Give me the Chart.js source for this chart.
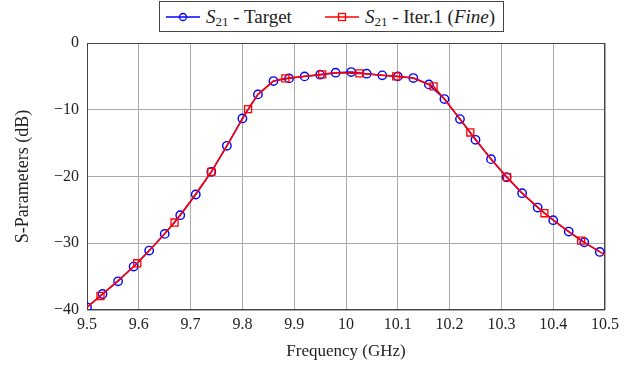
<!DOCTYPE html>
<html>
<head>
<meta charset="utf-8">
<script src="https://cdn.jsdelivr.net/npm/chart.js@4.4.0/dist/chart.umd.min.js"></script>
<style>
  body { margin: 0; background: #fff; }
  #wrap { position: relative; width: 642px; height: 365px; }
  #legend {
    position: absolute; left: 159px; top: 1px; width: 345px; height: 31px;
    border: 1px solid #444; background: #fff; box-sizing: border-box;
    font-family: "Liberation Serif", serif; font-size: 19px; color: #222;
    display: flex; align-items: center; padding-left: 6px; white-space: nowrap;
  }
  #legend .item { display: flex; align-items: center; margin-right: 33px; }
  #legend svg { margin-right: 6px; }
  #legend sub { font-size: 13px; vertical-align: -3px; line-height: 0; }
</style>
</head>
<body>
<div id="wrap">
  <canvas id="sparamChart" width="642" height="365"></canvas>
  <div id="legend">
    <span class="item">
      <svg width="34" height="12"><line x1="0" y1="6" x2="34" y2="6" stroke="#0000ff" stroke-width="1.5"/><circle cx="17" cy="6" r="3.5" fill="none" stroke="#0000ff" stroke-width="1.3"/></svg>
      <span><i>S</i><sub>21</sub> - Target</span>
    </span>
    <span class="item">
      <svg width="34" height="12"><line x1="0" y1="6" x2="34" y2="6" stroke="#ff0000" stroke-width="1.5"/><rect x="13.5" y="2.5" width="7" height="7" fill="none" stroke="#ff0000" stroke-width="1.3"/></svg>
      <span><i>S</i><sub>21</sub> - Iter.1 (<i>Fine</i>)</span>
    </span>
  </div>
</div>
<script>
// target response, sampled every 0.03 GHz
var targetFreq = [9.50, 9.53, 9.56, 9.59, 9.62, 9.65, 9.68, 9.71, 9.74, 9.77, 9.80, 9.83,
    9.86, 9.89, 9.92, 9.95, 9.98, 10.01, 10.04, 10.07, 10.10, 10.13, 10.16, 10.19,
    10.22, 10.25, 10.28, 10.31, 10.34, 10.37, 10.40, 10.43, 10.46, 10.49];
var targetDb = [-39.6, -37.6, -35.7, -33.5, -31.1, -28.6, -25.8, -22.7, -19.3, -15.4, -11.3, -7.7,
    -5.7, -5.3, -5.0, -4.75, -4.45, -4.35, -4.6, -4.85, -5.0, -5.25, -6.2, -8.4,
    -11.4, -14.5, -17.4, -20.1, -22.5, -24.65, -26.55, -28.25, -29.85, -31.3];

// fine-model iteration 1
var fineFreq = [9.50, 9.526, 9.56, 9.597, 9.63, 9.669, 9.70, 9.740, 9.77, 9.811, 9.83, 9.86,
    9.883, 9.92, 9.954, 9.98, 10.026, 10.06, 10.097, 10.13, 10.169, 10.19, 10.22, 10.240,
    10.28, 10.311, 10.34, 10.383, 10.42, 10.454, 10.50];
var fineDb = [-39.6, -37.9, -35.6, -33.0, -30.3, -26.9, -23.7, -19.3, -15.4, -9.9, -7.7, -5.7,
    -5.3, -5.0, -4.7, -4.45, -4.55, -4.75, -5.0, -5.25, -6.5, -8.4, -11.4, -13.4,
    -17.4, -20.1, -22.5, -25.5, -27.7, -29.6, -31.75];
// points of the fine curve that carry a marker
var fineMarkFreq = [9.526, 9.597, 9.669, 9.740, 9.811, 9.883, 9.954, 10.026, 10.097,
    10.169, 10.240, 10.311, 10.383, 10.454];

var xTicks = [9.5, 9.6, 9.7, 9.8, 9.9, 10, 10.1, 10.2, 10.3, 10.4, 10.5];
var yTicks = [0, -10, -20, -30, -40];

function toPoints(xs, ys) {
    return xs.map(function (x, i) { return { x: x, y: ys[i] }; });
}

var serif = "'Liberation Serif', 'DejaVu Serif', serif";

// plot frame around the chart area
var framePlugin = {
    id: 'frame',
    beforeDatasetsDraw: function (chart) {
        var a = chart.chartArea, ctx = chart.ctx;
        ctx.save();
        ctx.strokeStyle = '#444';
        ctx.lineWidth = 1;
        ctx.strokeRect(a.left + 0.5, a.top + 0.5, a.right - a.left - 1, a.bottom - a.top - 1);
        ctx.restore();
    }
};

var ctxChart = document.getElementById('sparamChart').getContext('2d');
var sparamChart = new Chart(ctxChart, {
    type: 'line',
    data: {
        datasets: [{
            label: 'S21 - Iter.1 (Fine)',
            data: toPoints(fineFreq, fineDb),
            borderColor: '#ff0000',
            borderWidth: 1.6,
            pointStyle: 'rect',
            pointRadius: function (c) {
                return fineMarkFreq.indexOf(c.raw.x) >= 0 ? 5 : 0;
            },
            pointBorderWidth: 1.3,
            pointBorderColor: '#ff0000',
            pointBackgroundColor: 'rgba(0,0,0,0)',
            fill: false,
            tension: 0
        }, {
            label: 'S21 - Target',
            data: toPoints(targetFreq, targetDb),
            borderColor: '#0000ff',
            borderWidth: 1.4,
            pointStyle: 'circle',
            pointRadius: 4.2,
            pointBorderWidth: 1.4,
            pointBorderColor: '#0000ff',
            pointBackgroundColor: 'rgba(0,0,0,0)',
            fill: false,
            tension: 0
        }]
    },
    options: {
        responsive: false,
        animation: false,
        layout: { padding: { top: 43, right: 37, left: 0, bottom: 0 } },
        plugins: {
            legend: { display: false },
            tooltip: { enabled: false }
        },
        scales: {
            x: {
                type: 'linear',
                min: 9.5,
                max: 10.5,
                afterFit: function (scale) { scale.height = 55; },
                afterBuildTicks: function (scale) {
                    scale.ticks = xTicks.map(function (v) { return { value: v }; });
                },
                ticks: {
                    padding: 5,
                    color: '#222',
                    font: { family: serif, size: 16 },
                    callback: function (v) { return String(Number(v.toFixed(1))); }
                },
                grid: { color: '#aaaaaa', drawTicks: false },
                border: { display: false },
                title: {
                    display: true,
                    text: 'Frequency (GHz)',
                    color: '#222',
                    font: { family: serif, size: 17 },
                    padding: { top: 0, bottom: 3 }
                }
            },
            y: {
                type: 'linear',
                min: -40,
                max: 0,
                afterFit: function (scale) { scale.width = 87; },
                afterBuildTicks: function (scale) {
                    scale.ticks = yTicks.map(function (v) { return { value: v }; });
                },
                ticks: {
                    padding: 8,
                    color: '#222',
                    font: { family: serif, size: 16 },
                    callback: function (v) { return v < 0 ? '\u2212' + Math.abs(v) : String(v); }
                },
                grid: { color: '#aaaaaa', drawTicks: false },
                border: { display: false },
                title: {
                    display: true,
                    text: 'S-Parameters (dB)',
                    color: '#222',
                    font: { family: serif, size: 18 },
                    padding: { top: 12, bottom: 0 }
                }
            }
        }
    },
    plugins: [framePlugin]
});
</script>
</body>
</html>
